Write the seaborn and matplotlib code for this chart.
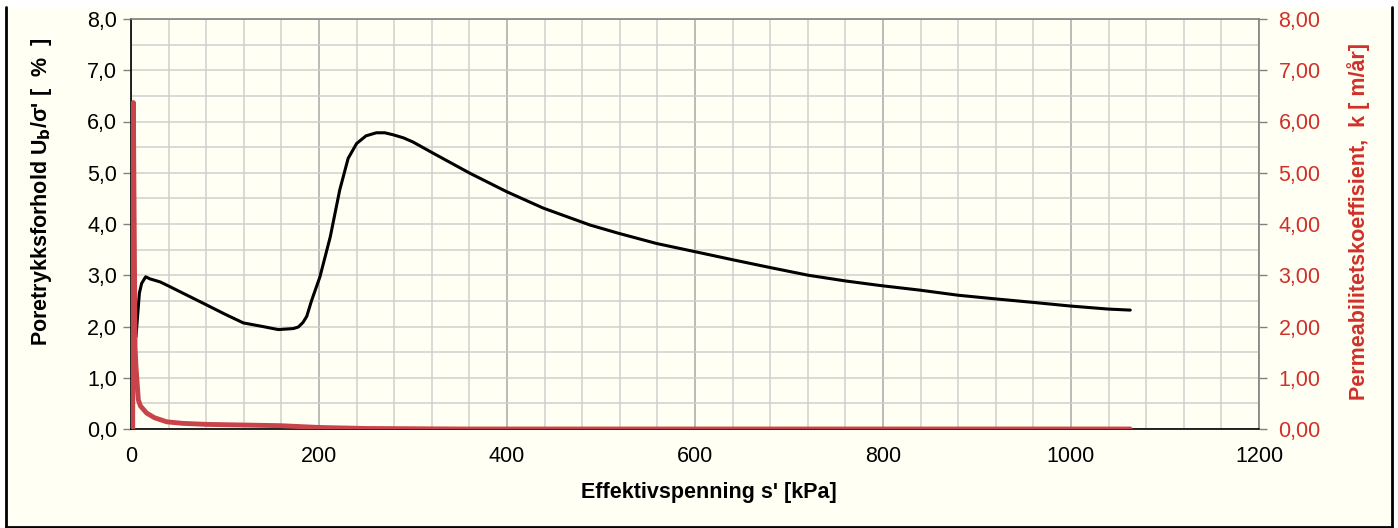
import numpy as np
import pandas as pd
import matplotlib
matplotlib.use("Agg")
import matplotlib.pyplot as plt
import matplotlib.ticker as mticker
from matplotlib.lines import Line2D
import seaborn as sns

# Poretrykksforhold (venstre akse)
sigma_u = [5.3, 8.9, 11.3, 15.6, 20, 31, 40, 52, 80.5, 100, 119.5, 140, 156.7, 165,
           172.7, 178, 183, 187, 192, 201, 212, 222, 231, 240, 250, 261, 270, 279,
           290, 300, 321.6, 360.6, 399.7, 438.6, 488.3, 518.4, 559, 600, 640.7,
           680, 720.5, 759.6, 796.8, 839, 880, 919, 960, 999, 1039.7, 1063]
ub_ratio = [1.80, 2.65, 2.84, 2.97, 2.93, 2.87, 2.79, 2.68, 2.42, 2.24, 2.07, 2.00,
            1.94, 1.95, 1.96, 1.99, 2.08, 2.20, 2.50, 2.97, 3.75, 4.66, 5.28, 5.57,
            5.72, 5.78, 5.78, 5.74, 5.68, 5.60, 5.38, 4.99, 4.63, 4.31, 3.98, 3.82,
            3.62, 3.46, 3.30, 3.15, 3.00, 2.89, 2.80, 2.71, 2.61, 2.54, 2.47, 2.40,
            2.34, 2.32]

# Permeabilitetskoeffisient (hoyre akse)
sigma_k = [1.8, 2.5, 4.3, 5.3, 7.8, 10, 16.7, 25, 38, 55, 80.5, 158.5, 200, 250,
           350, 600, 800, 1063]
perm_k = [0.0, 6.37, 1.6, 1.22, 0.57, 0.45, 0.31, 0.22, 0.14, 0.11, 0.09, 0.065,
          0.03, 0.01, 0.0, 0.0, 0.0, 0.0]

df_u = pd.DataFrame({"s": sigma_u, "u": ub_ratio})
df_k = pd.DataFrame({"s": sigma_k, "k": perm_k})

sns.set_style("white")
plt.rcParams["font.family"] = ["Liberation Sans", "DejaVu Sans"]
plt.rcParams["text.color"] = "black"
plt.rcParams["axes.labelcolor"] = "black"
plt.rcParams["xtick.color"] = "black"
plt.rcParams["ytick.color"] = "black"

bg = "#fffff3"
red = "#c8434a"
red_txt = "#d0302a"
fs = 15.5

fig = plt.figure(figsize=(13.98, 5.28), dpi=100, facecolor="white")
# bakgrunn og ramme
fig.add_artist(plt.Rectangle((5 / 1398, 0), 1387 / 1398, 521 / 528,
                             transform=fig.transFigure, facecolor=bg,
                             edgecolor="none", zorder=-10))
for xs, ys in [([5.5 / 1398, 5.5 / 1398], [0, 521 / 528]),
               ([1392 / 1398, 1392 / 1398], [0, 521 / 528]),
               ([5.5 / 1398, 1392 / 1398], [1 / 528, 1 / 528])]:
    fig.add_artist(Line2D(xs, ys, transform=fig.transFigure, color="black", lw=2,
                          zorder=-9))

ax = fig.add_axes([131 / 1398, 1 - 429 / 528, 1128 / 1398, 410 / 528])
ax.set_facecolor(bg)

sns.lineplot(data=df_u, x="s", y="u", ax=ax, color="black", lw=2.2, sort=False)

ax.set_xlim(0, 1200)
ax.set_ylim(0, 8)
ax.xaxis.set_major_locator(mticker.MultipleLocator(200))
ax.xaxis.set_minor_locator(mticker.MultipleLocator(40))
ax.yaxis.set_major_locator(mticker.MultipleLocator(1))
ax.yaxis.set_minor_locator(mticker.MultipleLocator(0.5))
ax.grid(True, which="major", axis="x", color="#a8a8a8", lw=1.1)
ax.grid(True, which="minor", axis="x", color="#cfcfcf", lw=1.1)
ax.grid(True, which="both", axis="y", color="#cfcfcf", lw=1.1)
ax.set_axisbelow(True)
ax.yaxis.set_major_formatter(mticker.FuncFormatter(lambda v, p: f"{v:.1f}".replace(".", ",")))
ax.tick_params(axis="both", which="major", direction="out", length=6, width=1,
               color="#808080", labelsize=fs, pad=4)
ax.tick_params(axis="x", which="major", pad=6)
ax.tick_params(axis="both", which="minor", length=0)

for side in ["left", "bottom"]:
    ax.spines[side].set_color("black")
    ax.spines[side].set_linewidth(1.2)
for side in ["top", "right"]:
    ax.spines[side].set_color("#808080")
    ax.spines[side].set_linewidth(1.2)

ax.set_xlabel("Effektivspenning s' [kPa]", fontsize=fs, weight="bold")
ax.set_ylabel("Poretrykksforhold U$_\\mathbf{b}$/σ' [  %  ]", fontsize=fs, weight="bold")
ax.xaxis.label.set_va("center")
ax.yaxis.label.set_va("center")
ax.xaxis.set_label_coords(0.512, -0.156)
ax.yaxis.set_label_coords(-0.079, 0.578)

ax2 = ax.twinx()
sns.lineplot(data=df_k, x="s", y="k", ax=ax2, color=red, lw=3.5, sort=False)
ax2.set_ylim(0, 8)
ax2.yaxis.set_major_locator(mticker.MultipleLocator(1))
ax2.yaxis.set_major_formatter(mticker.FuncFormatter(lambda v, p: f"{v:.2f}".replace(".", ",")))
ax2.tick_params(axis="y", direction="out", length=6, width=1, color="#808080",
                labelsize=fs, labelcolor=red_txt, pad=8)
ax2.set_ylabel("Permeabilitetskoeffisient,  k [ m/år]", fontsize=fs, weight="bold",
               color=red_txt)
ax2.yaxis.label.set_va("center")
ax2.yaxis.set_label_coords(1.0878, 0.505)
for side in ax2.spines:
    ax2.spines[side].set_visible(False)

plt.savefig("out.png", dpi=100, facecolor="white")
plt.close()
